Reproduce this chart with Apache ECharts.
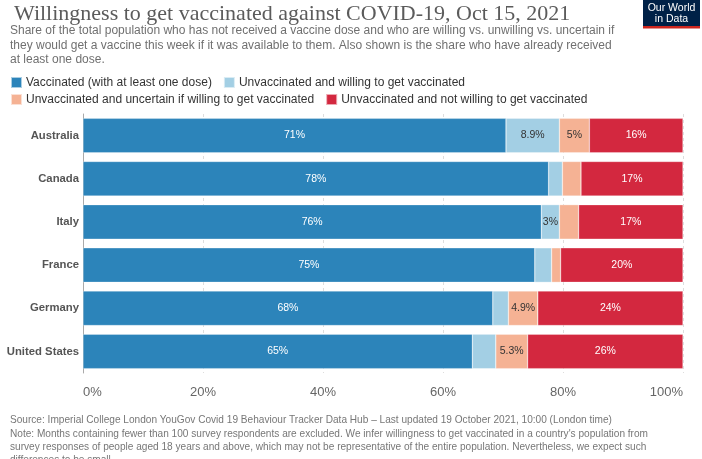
<!DOCTYPE html>
<html>
<head>
<meta charset="utf-8">
<script src="https://cdn.jsdelivr.net/npm/echarts@6/dist/echarts.min.js"></script>
<style>
html,body{margin:0;padding:0;background:#fff;}
#chart{width:702px;height:459px;}
</style>
</head>
<body>
<div id="chart"></div>
<script>
const countries = ['Australia', 'Canada', 'Italy', 'France', 'Germany', 'United States'];
const seriesNames = [
  'Vaccinated (with at least one dose)',
  'Unvaccinated and willing to get vaccinated',
  'Unvaccinated and uncertain if willing to get vaccinated',
  'Unvaccinated and not willing to get vaccinated'
];
const vaccinated = [70.5, 77.6, 76.4, 75.3, 68.3, 64.9];
const willing    = [8.9, 2.3, 3.0, 2.8, 2.6, 3.9];
const uncertain  = [5.0, 3.1, 3.2, 1.5, 4.9, 5.3];
const notWilling = [15.6, 17.0, 17.4, 20.4, 24.2, 25.9];
// which segments carry a value label in the reference
const showVaccinated = [true, true, true, true, true, true];
const showWilling    = [true, false, true, false, false, false];
const showUncertain  = [true, false, false, false, true, true];
const showNotWilling = [true, true, true, true, true, true];
const xTicks = [0, 20, 40, 60, 80, 100];

const colors = ['#2c84ba', '#a3cfe4', '#f5b294', '#d3283f'];
const labelColors = ['#ffffff', '#333333', '#333333', '#ffffff'];
const values = [vaccinated, willing, uncertain, notWilling];
const shows = [showVaccinated, showWilling, showUncertain, showNotWilling];

function fmt(v) { return Number(v.toPrecision(2)) + '%'; }

const series = seriesNames.map((name, i) => ({
  name: name,
  type: 'bar',
  stack: 'total',
  barCategoryGap: '20%',
  itemStyle: { color: colors[i], borderColor: 'rgba(255,255,255,0.6)', borderWidth: 0.5 },
  label: {
    position: 'inside',
    color: labelColors[i],
    fontFamily: 'Liberation Sans, Arial, sans-serif',
    fontSize: 10.5,
    formatter: p => fmt(p.value)
  },
  emphasis: { disabled: true },
  data: values[i].map((v, j) => ({ value: v, label: { show: shows[i][j] } }))
}));

const legendText = { fontFamily: 'Liberation Sans, Arial, sans-serif', fontSize: 12, color: '#333', padding: [0, 0, 0, -1] };
const legendBase = {
  left: 5, itemWidth: 11, itemHeight: 11, itemGap: 11, icon: 'rect',
  selectedMode: false, textStyle: legendText
};

const chart = echarts.init(document.getElementById('chart'), null, { renderer: 'canvas' });
chart.setOption({
  animation: false,
  backgroundColor: '#ffffff',
  title: {
    text: 'Willingness to get vaccinated against COVID-19, Oct 15, 2021',
    left: 9, top: -2,
    textStyle: { fontFamily: 'Liberation Serif, serif', fontSize: 22, fontWeight: 'normal', color: '#5b5b5b' }
  },
  legend: [
    Object.assign({}, legendBase, { top: 71, data: seriesNames.slice(0, 2) }),
    Object.assign({}, legendBase, { top: 88, data: seriesNames.slice(2, 4) })
  ],
  grid: { left: 83, right: 19, top: 114, bottom: 86, containLabel: false, outerBoundsMode: 'none' },
  xAxis: {
    type: 'value', min: 0, max: 100, interval: 20,
    axisLine: { show: false }, axisTick: { show: false },
    splitLine: { show: true, lineStyle: { type: [3, 3], color: '#dddddd' } },
    axisLabel: {
      margin: 13, fontFamily: 'Liberation Sans, Arial, sans-serif', fontSize: 13, color: '#666',
      alignMinLabel: 'left', alignMaxLabel: 'right',
      formatter: v => (xTicks.indexOf(v) >= 0 ? v + '%' : '')
    }
  },
  yAxis: {
    type: 'category', data: countries, inverse: true,
    axisLine: { show: true, lineStyle: { color: '#aaaaaa' } },
    axisTick: { show: false },
    axisLabel: { margin: 4, fontFamily: 'Liberation Sans, Arial, sans-serif', fontSize: 11.3, fontWeight: 'bold', color: '#555' }
  },
  series: series,
  graphic: [
    {
      type: 'text', left: 10, top: 24,
      style: {
        text: 'Share of the total population who has not received a vaccine dose and who are willing vs. unwilling vs. uncertain if\nthey would get a vaccine this week if it was available to them. Also shown is the share who have already received\nat least one dose.',
        font: '12px "Liberation Sans", Arial, sans-serif', fill: '#707070', lineHeight: 14.3
      }
    },
    {
      type: 'text', left: 10, top: 414,
      style: {
        text: 'Source: Imperial College London YouGov Covid 19 Behaviour Tracker Data Hub – Last updated 19 October 2021, 10:00 (London time)\nNote: Months containing fewer than 100 survey respondents are excluded. We infer willingness to get vaccinated in a country\'s population from\nsurvey responses of people aged 18 years and above, which may not be representative of the entire population. Nevertheless, we expect such\ndifferences to be small.',
        font: '10.1px "Liberation Sans", Arial, sans-serif', fill: '#777777', lineHeight: 13.2
      }
    },
    {
      type: 'group', left: 643, top: 0,
      children: [
        { type: 'rect', shape: { x: 0, y: 0, width: 57, height: 28 }, style: { fill: '#002147' } },
        { type: 'rect', shape: { x: 0, y: 26, width: 57, height: 2.5 }, style: { fill: '#ce261e' } },
        { type: 'text', style: { x: 28.5, y: 3, text: 'Our World\nin Data', align: 'center', font: '10.5px "Liberation Sans", Arial, sans-serif', fill: '#ffffff', lineHeight: 10.5 } }
      ]
    }
  ]
});
</script>
</body>
</html>
